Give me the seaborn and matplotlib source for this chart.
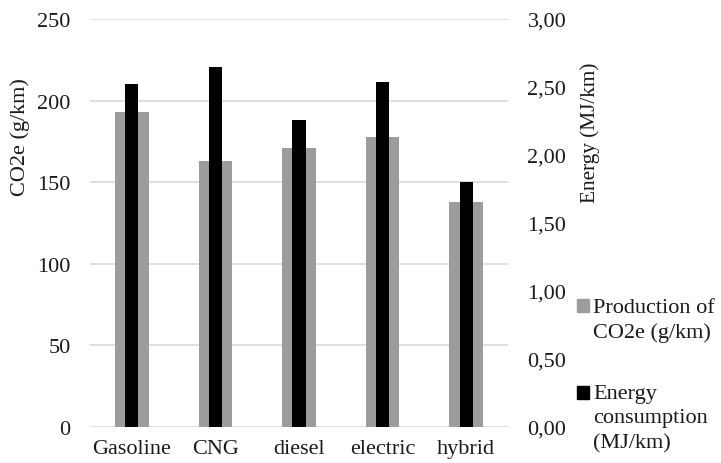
import matplotlib
matplotlib.use("Agg")
import matplotlib.pyplot as plt
from matplotlib.patches import Rectangle
from matplotlib.ticker import FuncFormatter
import seaborn as sns
import pandas as pd

# Vehicle types and their values
vehicles = ["Gasoline", "CNG", "diesel", "electric", "hybrid"]
co2e_g_per_km = [193, 163, 171, 178, 138]
energy_mj_per_km = [2.52, 2.65, 2.26, 2.54, 1.80]

left_ticks = [0, 50, 100, 150, 200, 250]
right_ticks = [0.0, 0.5, 1.0, 1.5, 2.0, 2.5, 3.0]

grey = "#9c9c9c"
black = "#000000"
grid_col = "#d9d9d9"
text_col = "#1a1a1a"

sns.set_theme(style="white")
plt.rcParams["font.family"] = ["Liberation Serif", "DejaVu Serif"]
FS = 16

df = pd.DataFrame({"vehicle": vehicles, "co2e": co2e_g_per_km, "energy": energy_mj_per_km})

W, H = 721, 464
fig = plt.figure(figsize=(W / 100, H / 100), dpi=100)
ax = fig.add_axes([90 / W, (H - 428) / H, 418 / W, 408 / H])

sns.barplot(data=df, x="vehicle", y="co2e", color=grey, width=0.4,
            saturation=1, linewidth=0, ax=ax, zorder=2)
ax.set_ylim(0, 250)
ax.set_yticks(left_ticks)
ax.yaxis.grid(True, color=grid_col, linewidth=1.2, zorder=0)
ax.set_axisbelow(True)
ax.set_xlabel("")
ax.set_ylabel("")
for s in ax.spines.values():
    s.set_visible(False)
ax.tick_params(axis="both", length=0, labelsize=FS, colors=text_col)
ax.tick_params(axis="y", pad=14)
ax.tick_params(axis="x", pad=9)

ax2 = ax.twinx()
sns.barplot(data=df, x="vehicle", y="energy", color=black, width=0.16,
            saturation=1, linewidth=0, ax=ax2, zorder=3)
ax2.set_ylim(0, 3.0)
ax2.set_yticks(right_ticks)
ax2.yaxis.set_major_formatter(FuncFormatter(lambda v, p: f"{v:.2f}".replace(".", ",")))
ax2.set_ylabel("")
ax2.set_xlabel("")
for s in ax2.spines.values():
    s.set_visible(False)
ax2.tick_params(axis="y", length=0, labelsize=FS, pad=14, colors=text_col)

# Axis titles
fig.text(20 / W, 1 - 137 / H, "CO2e (g/km)", rotation=90, ha="center", va="center",
         fontsize=FS, color=text_col)
fig.text(590 / W, 1 - 133 / H, "Energy (MJ/km)", rotation=90, ha="center", va="center",
         fontsize=15.3, color=text_col)

# Legend: square swatches next to multi-line labels
legend_items = [
    (grey, "Production of\nCO2e (g/km)", 299, 300),
    (black, "Energy\nconsumption\n(MJ/km)", 385, 387),
]
for col, label, ytop, sq_top in legend_items:
    fig.patches.append(Rectangle((577 / W, 1 - (sq_top + 13) / H), 12 / W, 13 / H,
                                 transform=fig.transFigure, color=col, figure=fig))
    fig.text(593 / W, 1 - ytop / H, label, ha="left", va="top", fontsize=FS,
             linespacing=1.38, color=text_col)

fig.savefig("out.png", dpi=100)
